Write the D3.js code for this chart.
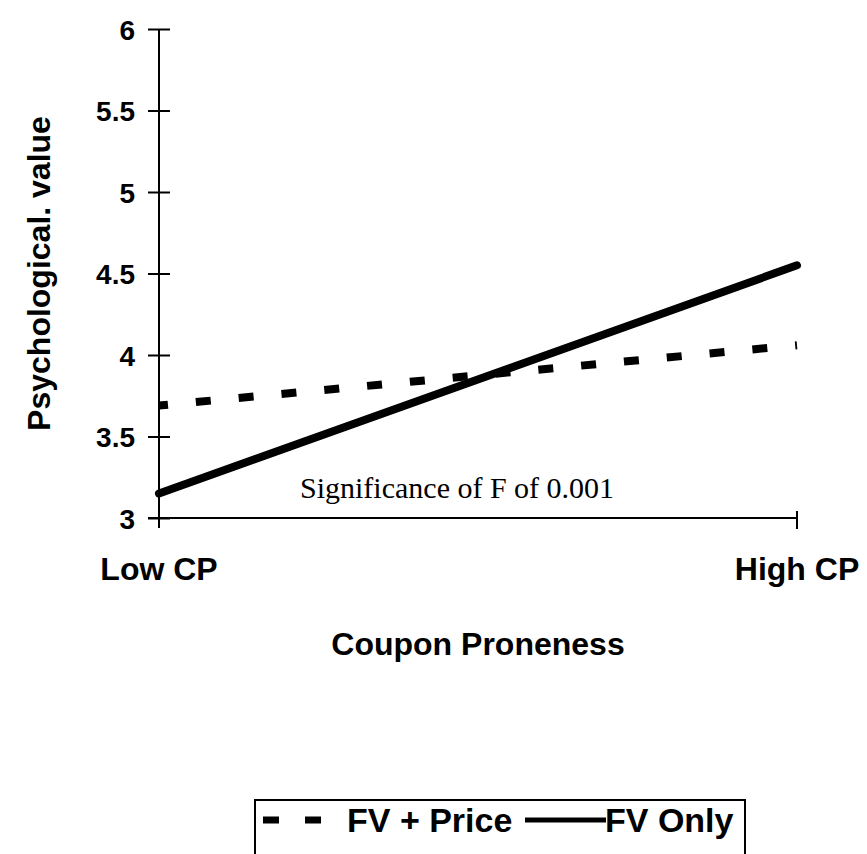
<!DOCTYPE html>
<html>
<head>
<meta charset="utf-8">
<script src="https://cdn.jsdelivr.net/npm/d3@7"></script>
<style>
  body { margin: 0; background: #fff; }
  text { font-family: "Liberation Sans", Arial, sans-serif; font-weight: bold; fill: #000; }
</style>
</head>
<body>
<script>
// data
var categories = ["Low CP", "High CP"];
var fvPrice = [3.69, 4.06];
var fvOnly = [3.15, 4.55];
var yTicks = [3, 3.5, 4, 4.5, 5, 5.5, 6];
var yTickLabels = ["3", "3.5", "4", "4.5", "5", "5.5", "6"];

var width = 867;
var height = 854;

var svg = d3.select("body").append("svg")
    .attr("width", width)
    .attr("height", height);

var x = d3.scalePoint().domain(categories).range([159, 797]);
var y = d3.scaleLinear().domain([3, 6]).range([518, 29]);

// y axis with ticks crossing the line
var yAxis = d3.axisLeft(y)
    .tickValues(yTicks)
    .tickFormat((d, i) => yTickLabels[i])
    .tickSizeInner(-11)
    .tickSizeOuter(0)
    .tickPadding(13);

var yg = svg.append("g")
    .attr("transform", "translate(159,0)")
    .call(yAxis);
yg.select(".domain").attr("stroke", "#000").attr("stroke-width", 2)
    .attr("d", "M0," + y(6) + "V" + (y(3) + 10));
yg.selectAll(".tick line").attr("stroke", "#000").attr("stroke-width", 2)
    .attr("x1", -11).attr("x2", 11);
yg.selectAll(".tick text")
    .attr("x", -24)
    .attr("dy", "0.36em")
    .style("font-size", "28px")
    .style("font-family", "'Liberation Sans', Arial, sans-serif")
    .style("font-weight", "bold");

// x axis
var xAxis = d3.axisBottom(x).tickSize(0).tickFormat("");
var xg = svg.append("g")
    .attr("transform", "translate(0," + y(3) + ")")
    .call(xAxis);
xg.select(".domain").attr("stroke", "#000").attr("stroke-width", 2)
    .attr("d", "M148,0H" + x("High CP"));
xg.selectAll(".tick line").remove();
svg.append("line")
    .attr("x1", x("High CP")).attr("x2", x("High CP"))
    .attr("y1", y(3) - 7).attr("y2", y(3) + 11)
    .attr("stroke", "#000").attr("stroke-width", 2);

// category labels
svg.selectAll(".cat")
    .data(categories)
    .enter()
    .append("text")
    .attr("class", "cat")
    .attr("x", d => x(d))
    .attr("y", 580)
    .attr("text-anchor", "middle")
    .style("font-size", "32px")
    .text(d => d);

// axis titles
svg.append("text")
    .attr("x", (x("Low CP") + x("High CP")) / 2)
    .attr("y", 655)
    .attr("text-anchor", "middle")
    .style("font-size", "32px")
    .text("Coupon Proneness");

svg.append("text")
    .attr("transform", "translate(50," + ((y(3) + y(6)) / 2) + ") rotate(-90)")
    .attr("text-anchor", "middle")
    .style("font-size", "32px")
    .text("Psychological. value");

// lines
var line = d3.line()
    .x((d, i) => x(categories[i]))
    .y(d => y(d));

svg.append("path")
    .datum(fvPrice)
    .attr("d", line)
    .attr("fill", "none")
    .attr("stroke", "#000")
    .attr("stroke-width", 8)
    .attr("stroke-dasharray", "15,28")
    .attr("stroke-dashoffset", 6);

svg.append("path")
    .datum(fvOnly)
    .attr("d", line)
    .attr("fill", "none")
    .attr("stroke", "#000")
    .attr("stroke-width", 8)
    .attr("stroke-linecap", "round");

// annotation
svg.append("text")
    .attr("x", 300)
    .attr("y", 498)
    .style("font-family", "'Liberation Serif', 'Times New Roman', serif")
    .style("font-weight", "normal")
    .style("font-size", "30px")
    .text("Significance of F of 0.001");

// legend
var legend = svg.append("g");
legend.append("rect")
    .attr("x", 255).attr("y", 800)
    .attr("width", 490).attr("height", 60)
    .attr("fill", "none")
    .attr("stroke", "#000")
    .attr("stroke-width", 2);
legend.append("line")
    .attr("x1", 263).attr("x2", 322)
    .attr("y1", 820).attr("y2", 820)
    .attr("stroke", "#000").attr("stroke-width", 7)
    .attr("stroke-dasharray", "16,26");
legend.append("text")
    .attr("x", 347).attr("y", 832)
    .style("font-size", "34px")
    .text("FV + Price");
legend.append("line")
    .attr("x1", 525).attr("x2", 606)
    .attr("y1", 820).attr("y2", 820)
    .attr("stroke", "#000").attr("stroke-width", 5);
legend.append("text")
    .attr("x", 605).attr("y", 832)
    .style("font-size", "34px")
    .text("FV Only");
</script>
</body>
</html>
